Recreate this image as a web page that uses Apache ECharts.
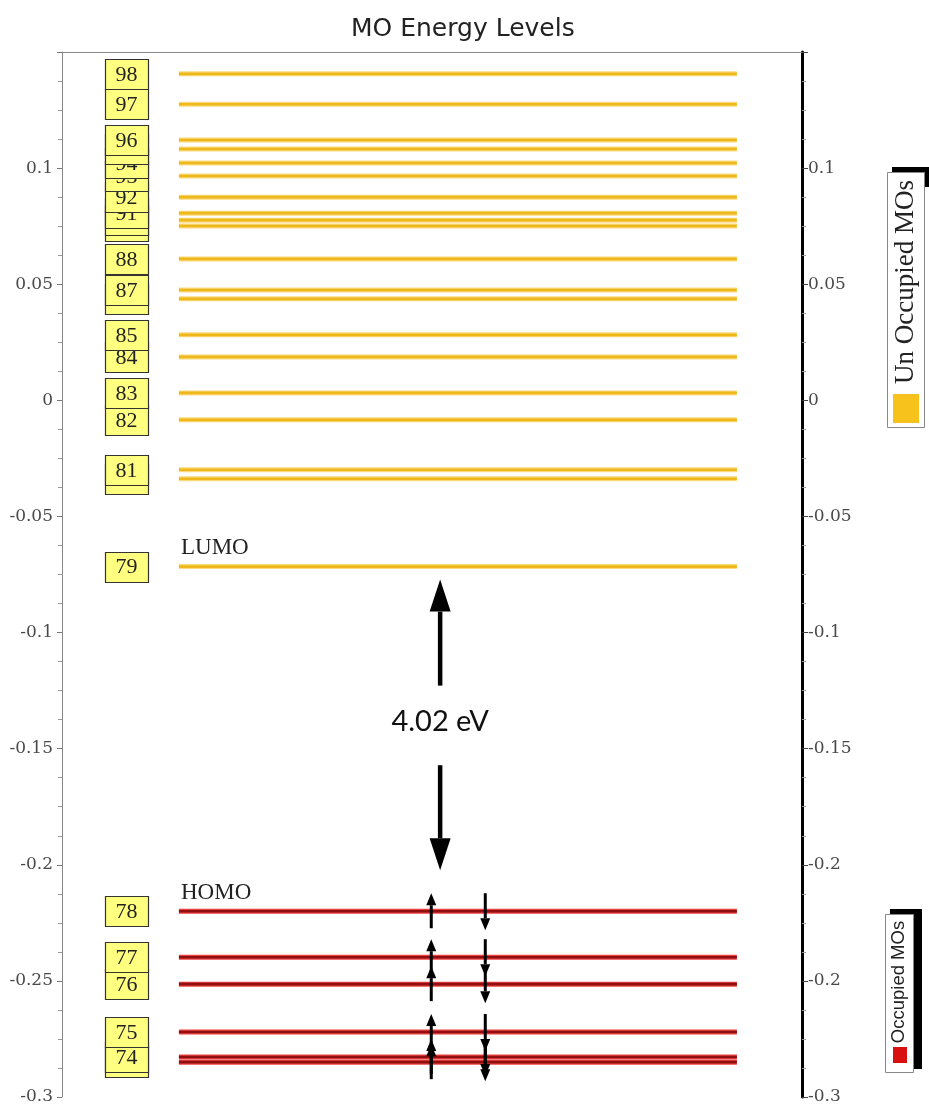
<!DOCTYPE html>
<html>
<head>
<meta charset="utf-8">
<script src="https://cdn.jsdelivr.net/npm/echarts@6/dist/echarts.min.js"></script>
<style>html,body{margin:0;padding:0;background:#fff}#chart{width:929px;height:1110px}</style>
</head>
<body>
<div id="chart"></div>
<script>
// ---- data ----
const chartTitle = 'MO Energy Levels';
const unoccLabels = [79, 80, 81, 82, 83, 84, 85, 86, 87, 88, 89, 90, 91, 92, 93, 94, 95, 96, 97, 98];
const unoccEnergies = [-0.0716, -0.0338, -0.0299, -0.0084, 0.0032, 0.0187, 0.0282, 0.0437, 0.0475, 0.0609,
                       0.0751, 0.0776, 0.0806, 0.0875, 0.0966, 0.1022, 0.1082, 0.1121, 0.1275, 0.1406];
const occLabels = [73, 74, 75, 76, 77, 78];
const occEnergies = [-0.2850, -0.2828, -0.2720, -0.2514, -0.2398, -0.2200];
const leftTickLabels = ['-0.3', '-0.25', '-0.2', '-0.15', '-0.1', '-0.05', '0', '0.05', '0.1', '0.15'];
const rightTickLabels = ['-0.3', '-0.2', '-0.2', '-0.15', '-0.1', '-0.05', '0', '0.05', '0.1', '0.15'];
const gapLabel = '4.02 eV';
const lumoText = 'LUMO';
const homoText = 'HOMO';
const legendUnocc = 'Un Occupied MOs';
const legendOcc = 'Occupied MOs';

// ---- layout constants ----
const Y_MIN = -0.3, Y_MAX = 0.15, Y_STEP = 0.05;
const LINE_X0 = 0.158, LINE_X1 = 0.912, BOX_X = 0.087;
const SPIN_UP_X = 0.499, SPIN_DN_X = 0.572, GAP_X = 0.511;

function tickIndex(v) { return Math.round((v - Y_MIN) / Y_STEP); }

function levelRenderer(core, halo) {
  return function (params, api) {
    const v = api.value(1);
    const p0 = api.coord([LINE_X0, v]);
    const p1 = api.coord([LINE_X1, v]);
    const b = api.coord([BOX_X, v]);
    return {
      type: 'group',
      children: [
        { type: 'line', shape: { x1: p0[0], y1: p0[1], x2: p1[0], y2: p1[1] }, style: { stroke: halo, lineWidth: 5 } },
        { type: 'line', shape: { x1: p0[0], y1: p0[1], x2: p1[0], y2: p1[1] }, style: { stroke: core, lineWidth: 2.6 } },
        { type: 'rect', shape: { x: Math.round(b[0] - 21.5) + 0.5, y: Math.round(b[1] - 15) + 0.5, width: 43, height: 30 },
          style: { fill: '#ffff80', stroke: '#333', lineWidth: 1.2 } },
        { type: 'text', style: { text: String(api.value(2)), x: b[0], y: b[1] + 1, align: 'center', verticalAlign: 'middle',
          font: '22px "Liberation Serif", serif', fill: '#222' } }
      ]
    };
  };
}

function arrow(x, yTail, yTip, w, headW, headH) {
  const dir = yTip < yTail ? -1 : 1;
  const yBase = yTip - dir * headH;
  return [
    { type: 'line', shape: { x1: x, y1: yTail, x2: x, y2: yBase }, style: { stroke: '#000', lineWidth: w } },
    { type: 'polygon', shape: { points: [[x, yTip], [x - headW / 2, yBase], [x + headW / 2, yBase]] }, style: { fill: '#000' } }
  ];
}

function spinRenderer(params, api) {
  const v = api.value(1);
  const up = api.coord([SPIN_UP_X, v]);
  const dn = api.coord([SPIN_DN_X, v]);
  return {
    type: 'group',
    children: [].concat(
      arrow(up[0], up[1] + 17, up[1] - 18, 3, 10, 12),
      arrow(dn[0], dn[1] - 18, dn[1] + 19, 3, 10, 12)
    )
  };
}

function gapRenderer(params, api) {
  const lumo = api.coord([GAP_X, api.value(1)]);
  const homo = api.coord([GAP_X, api.value(2)]);
  const x = lumo[0];
  return {
    type: 'group',
    children: [].concat(
      arrow(x, lumo[1] + 119, lumo[1] + 13, 4.5, 21, 32),
      arrow(x, homo[1] - 146, homo[1] - 41, 4.5, 21, 32),
      [{ type: 'text', style: { text: gapLabel, x: x, y: lumo[1] + 155, align: 'center', verticalAlign: 'middle',
        font: '29px Lato, sans-serif', fill: '#111' } },
       { type: 'text', style: { text: lumoText, x: 181, y: lumo[1] - 7, align: 'left', verticalAlign: 'bottom',
        font: '23px "Liberation Serif", serif', fill: '#222' } },
       { type: 'text', style: { text: homoText, x: 181, y: homo[1] - 7, align: 'left', verticalAlign: 'bottom',
        font: '23px "Liberation Serif", serif', fill: '#222' } }]
    )
  };
}

const chart = echarts.init(document.getElementById('chart'), null, { renderer: 'canvas' });

const axisCommon = {
  type: 'value', min: Y_MIN, max: Y_MAX, interval: Y_STEP,
  splitLine: { show: false },
  minorTick: { show: true, splitNumber: 4, length: 4, lineStyle: { color: '#999' } },
  axisTick: { show: true, length: 5, lineStyle: { color: '#777' } }
};

chart.setOption({
  animation: false,
  backgroundColor: '#fff',
  title: {
    text: chartTitle, left: 346, top: 12,
    textStyle: { fontFamily: '"DejaVu Sans", sans-serif', fontSize: 25, fontWeight: 'normal', color: '#222' }
  },
  grid: { left: 62, right: 127, top: 52, bottom: 13 },
  xAxis: {
    type: 'value', min: 0, max: 1, position: 'top',
    axisLine: { show: true, onZero: false, lineStyle: { color: '#888', width: 1 } },
    axisTick: { show: false }, axisLabel: { show: false }, splitLine: { show: false }
  },
  yAxis: [
    Object.assign({}, axisCommon, {
      position: 'left',
      axisLine: { show: true, onZero: false, lineStyle: { color: '#888', width: 1 } },
      axisLabel: { showMaxLabel: false, margin: 9, color: '#4a4a4a',
        fontFamily: '"DejaVu Serif", serif', fontSize: 17,
        formatter: function (v) { return leftTickLabels[tickIndex(v)]; } }
    }),
    Object.assign({}, axisCommon, {
      position: 'right',
      axisLine: { show: true, onZero: false, lineStyle: { color: '#000', width: 3 } },
      axisTick: { show: true, length: 6, lineStyle: { color: '#444' } },
      axisLabel: { showMaxLabel: false, margin: 6, color: '#4a4a4a',
        fontFamily: '"DejaVu Serif", serif', fontSize: 17,
        formatter: function (v) { return rightTickLabels[tickIndex(v)]; } }
    })
  ],
  series: [
    {
      type: 'custom', name: legendOcc, yAxisIndex: 0,
      renderItem: levelRenderer('#8e1010', 'rgba(235,30,30,0.85)'),
      encode: { x: 0, y: 1 },
      data: occEnergies.map(function (v, i) { return [LINE_X0, v, occLabels[i]]; })
    },
    {
      type: 'custom', name: legendUnocc, yAxisIndex: 0,
      renderItem: levelRenderer('#eeb81c', 'rgba(248,205,80,0.75)'),
      encode: { x: 0, y: 1 },
      data: unoccEnergies.map(function (v, i) { return [LINE_X0, v, unoccLabels[i]]; })
    },
    {
      type: 'custom', name: 'spins', yAxisIndex: 0, z: 5,
      renderItem: spinRenderer,
      encode: { x: 0, y: 1 },
      data: occEnergies.map(function (v) { return [SPIN_UP_X, v]; })
    },
    {
      type: 'custom', name: 'gap', yAxisIndex: 0, z: 5,
      renderItem: gapRenderer,
      encode: { x: 0, y: 1 },
      data: [[GAP_X, unoccEnergies[0], occEnergies[occEnergies.length - 1]]]
    }
  ],
  graphic: [
    { type: 'rect', shape: { x: 892, y: 167, width: 40, height: 20 }, style: { fill: '#000' } },
    { type: 'rect', shape: { x: 887.5, y: 172.5, width: 37, height: 255 }, style: { fill: '#fff', stroke: '#888', lineWidth: 1 } },
    { type: 'rect', shape: { x: 893, y: 394, width: 26, height: 29 }, style: { fill: '#f8c21c' } },
    { type: 'text', x: 906, y: 282, rotation: Math.PI / 2,
      style: { text: legendUnocc, align: 'center', verticalAlign: 'middle', font: '27px "Liberation Serif", serif', fill: '#222' } },
    { type: 'rect', shape: { x: 890, y: 909, width: 32, height: 160 }, style: { fill: '#000' } },
    { type: 'rect', shape: { x: 885.5, y: 914.5, width: 28, height: 158 }, style: { fill: '#fff', stroke: '#888', lineWidth: 1 } },
    { type: 'rect', shape: { x: 893, y: 1047, width: 14, height: 16 }, style: { fill: '#d81010' } },
    { type: 'text', x: 899, y: 982, rotation: Math.PI / 2,
      style: { text: legendOcc, align: 'center', verticalAlign: 'middle', font: '18.5px "Liberation Sans", sans-serif', fill: '#222' } }
  ]
});
</script>
</body>
</html>
